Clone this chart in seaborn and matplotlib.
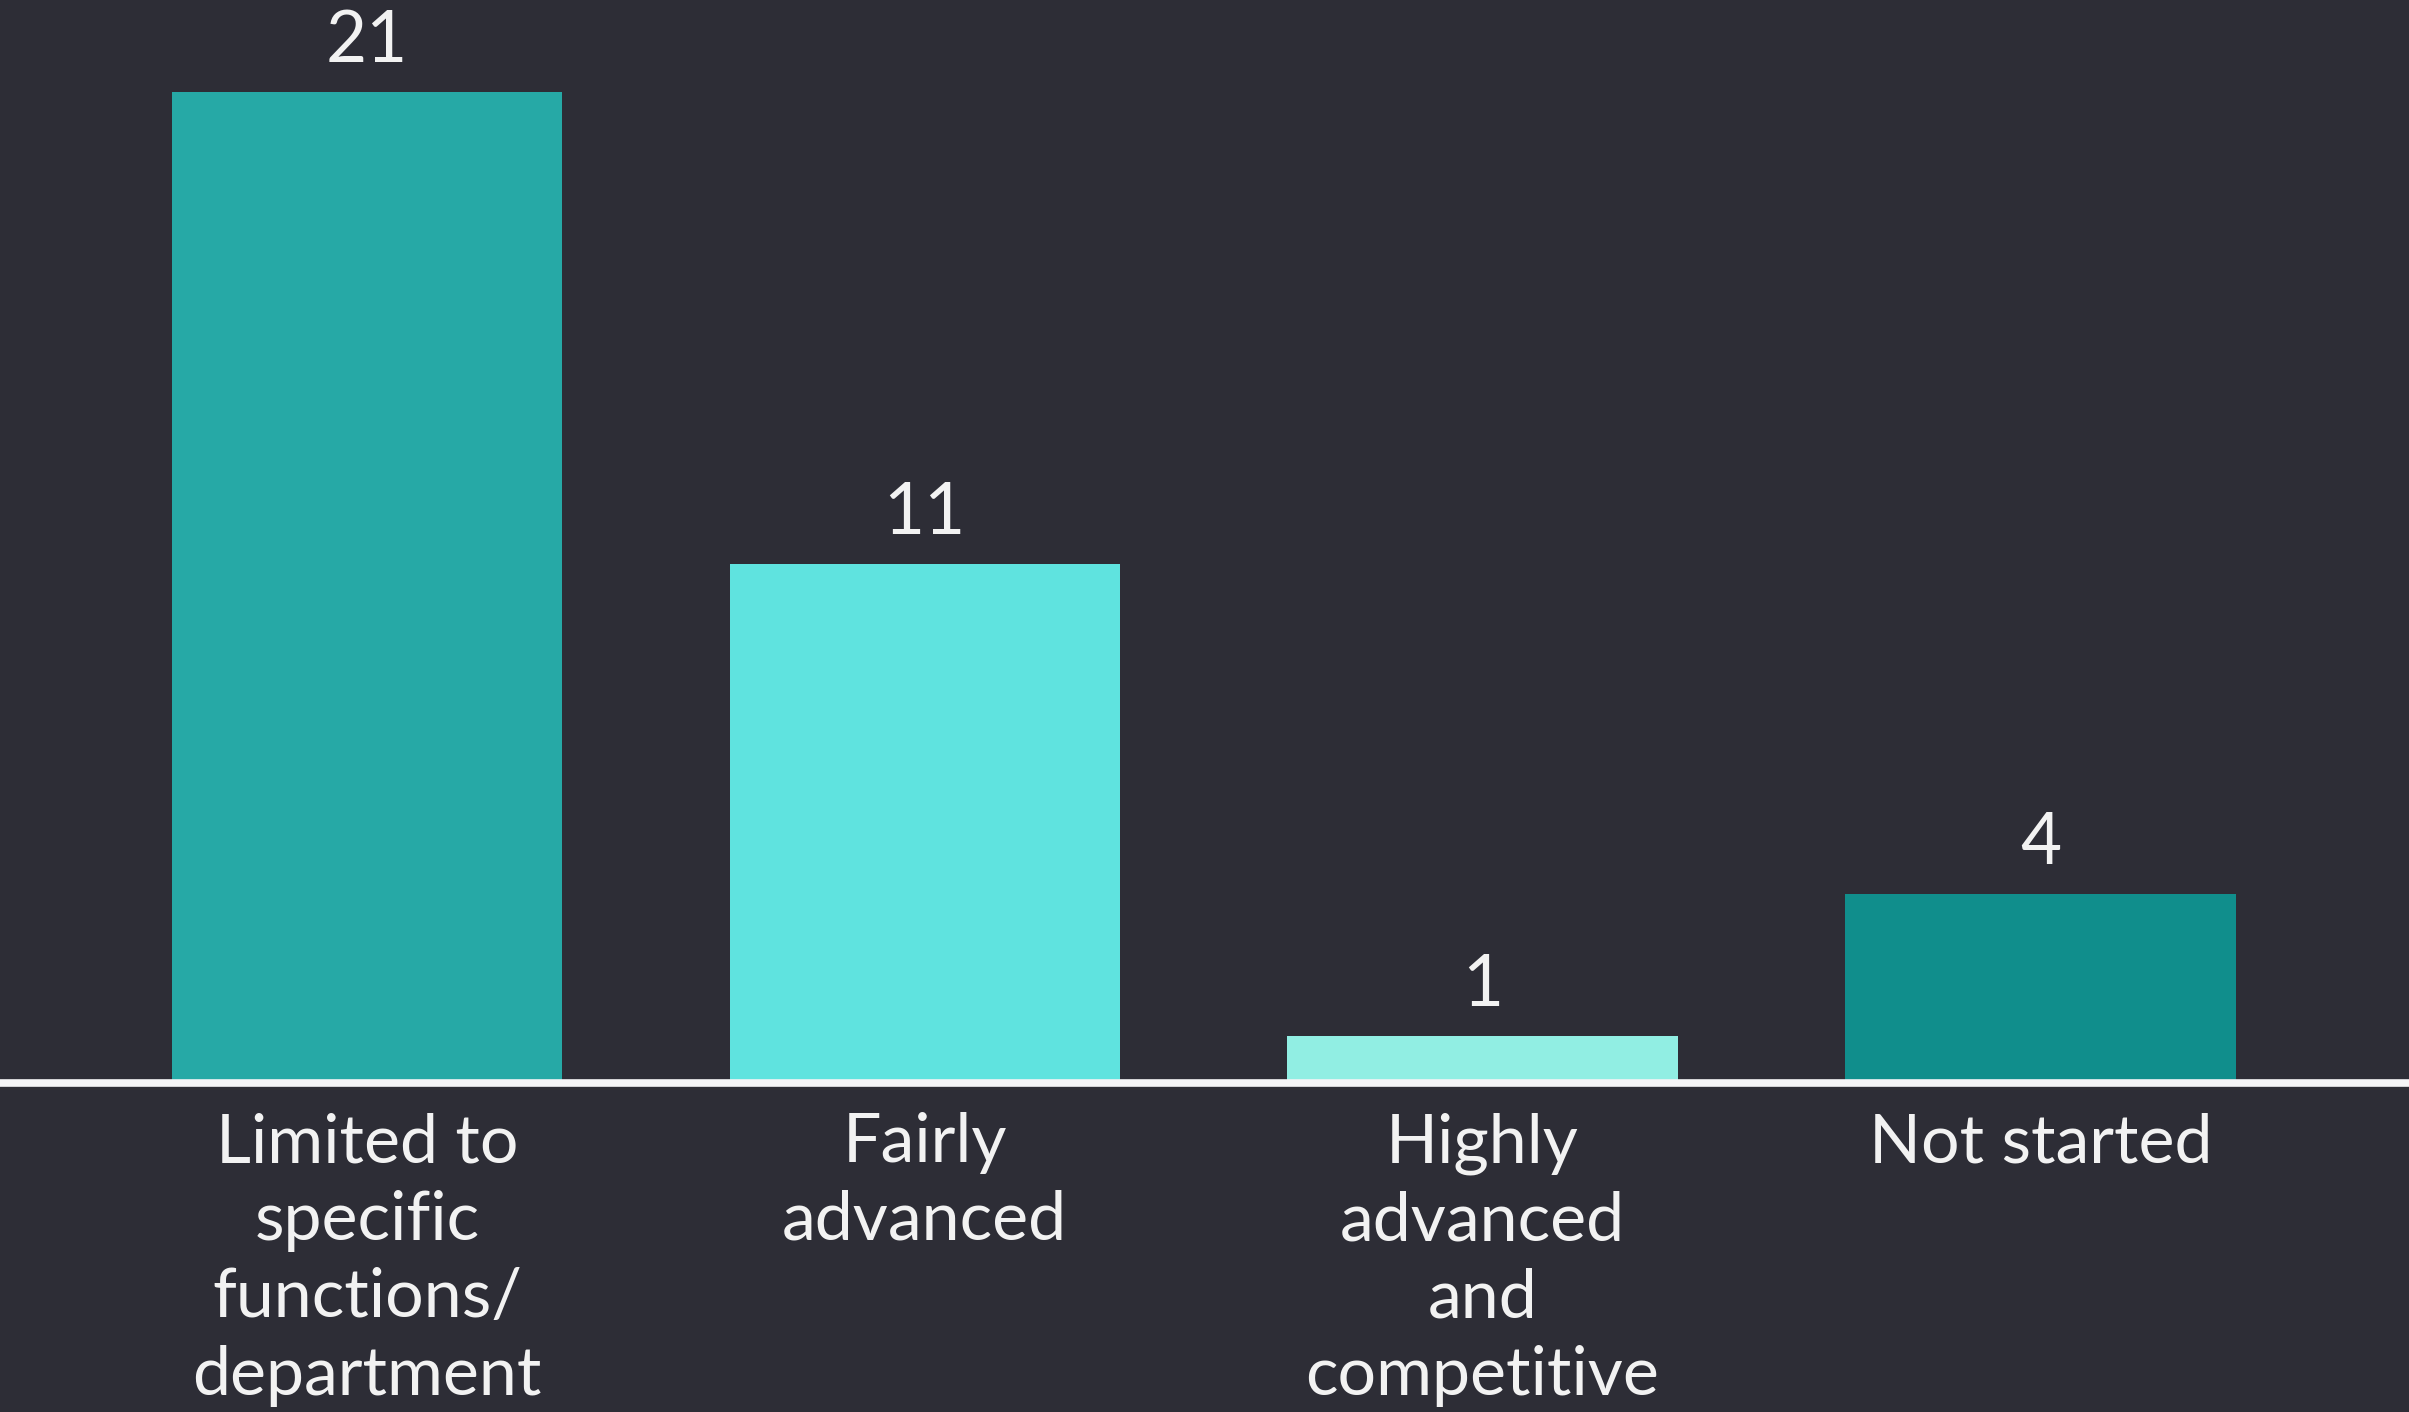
import matplotlib
matplotlib.use("Agg")
import matplotlib.pyplot as plt
import seaborn as sns
import pandas as pd

# Survey responses: stage of adoption
categories = [
    "Limited to\nspecific\nfunctions/\ndepartment",
    "Fairly\nadvanced",
    "Highly\nadvanced\nand\ncompetitive",
    "Not started",
]
counts = [21, 11, 1, 4]
bar_colors = ["#26A9A6", "#5FE3DF", "#91EEE3", "#108E8C"]

bg = "#2D2D36"
text_color = "#F2F2F2"

sns.set_theme(style="white")
plt.rcParams["font.family"] = ["Lato", "DejaVu Sans"]

df = pd.DataFrame({"category": categories, "count": counts})

fig = plt.figure(figsize=(24.09, 14.12), dpi=100, facecolor=bg)
ax = fig.add_axes([0.0, 0.2329, 1.0, 0.7671])
ax.set_facecolor(bg)

sns.barplot(
    data=df, x="category", y="count", hue="category",
    palette=bar_colors, legend=False, width=0.70,
    saturation=1.0, linewidth=0, ax=ax,
)

ax.set_xlim(-0.658, 3.661)
ax.set_ylim(0, 22.96)

for container, value in zip(ax.containers, counts):
    ax.bar_label(container, labels=[str(value)], padding=13,
                 fontsize=51, color=text_color)

for side in ["top", "right", "left"]:
    ax.spines[side].set_visible(False)
ax.spines["bottom"].set_color("#F4F4F6")
ax.spines["bottom"].set_linewidth(5.5)

ax.set_yticks([])
ax.set_xlabel("")
ax.set_ylabel("")
ax.tick_params(axis="x", length=0, pad=21, labelsize=49, labelcolor=text_color)
for lbl in ax.get_xticklabels():
    lbl.set_linespacing(1.31)
    lbl.set_verticalalignment("top")

fig.savefig("out.png", dpi=100, facecolor=bg)
